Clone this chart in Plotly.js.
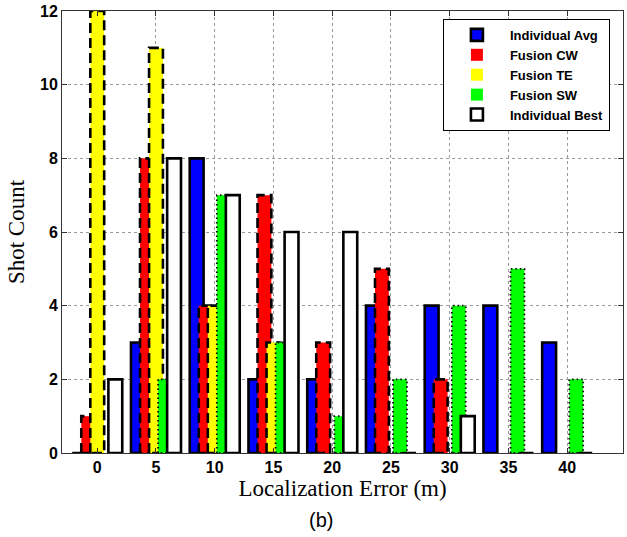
<!DOCTYPE html>
<html><head><meta charset="utf-8">
<script src="https://cdn.plot.ly/plotly-3.0.1.min.js"></script>
<style>html,body{margin:0;padding:0;background:#fff}#chart{width:627px;height:537px}</style>
</head><body><div id="chart"></div>
<script>
// ---- data ----
const errorBins = [0, 5, 10, 15, 20, 25, 30, 35, 40];
const seriesNames = ['Individual Avg', 'Fusion CW', 'Fusion TE', 'Fusion SW', 'Individual Best'];
const individualAvg = [0, 3, 8, 2, 2, 4, 4, 4, 3];
const fusionCW = [1, 8, 4, 7, 3, 5, 2, 0, 0];
const fusionTE = [12, 11, 4, 3, 0, 0, 0, 0, 0];
const fusionSW = [0, 2, 7, 3, 1, 2, 4, 5, 2];
const individualBest = [2, 8, 7, 6, 6, 0, 1, 0, 0];
const yTicks = [0, 2, 4, 6, 8, 10, 12];
const xTicks = errorBins;

// ---- styling ----
const seriesValues = [individualAvg, fusionCW, fusionTE, fusionSW, individualBest];
const fills = ['#0000ff', '#ff0000', '#ffff00', '#00ff00', '#ffffff'];
const edgeDash = [null, '10px,5px', '10px,5px', '1.5px,3px', null];
const edgeWidth = [2.6, 2.6, 2.6, 1.8, 2.6];
const barStep = 0.769;
const barWidth = 1.18;

const traces = [];
seriesValues.forEach((vals, i) => {
  const axSuffix = i === 0 ? '' : String(i + 1);
  const off = (i - 2) * barStep - barWidth / 2;
  const solid = edgeDash[i] === null;
  traces.push({
    type: 'bar', name: seriesNames[i], x: errorBins, y: vals,
    offset: off, width: barWidth,
    xaxis: 'x' + axSuffix, yaxis: 'y' + axSuffix,
    marker: { color: fills[i], line: { color: '#000', width: solid ? edgeWidth[i] : 0 } },
    legendrank: i + 1
  });
  if (!solid) {
    const ox = [], oy = [];
    errorBins.forEach((b, k) => {
      if (vals[k] <= 0) return;
      const l = b + off, r = b + off + barWidth;
      ox.push(l, l, r, r, l, null);
      oy.push(0, vals[k], vals[k], 0, 0, null);
    });
    traces.push({
      type: 'scatter', mode: 'lines', x: ox, y: oy, showlegend: false, hoverinfo: 'skip',
      xaxis: 'x' + axSuffix, yaxis: 'y' + axSuffix, connectgaps: false,
      line: { color: '#000', width: edgeWidth[i], dash: edgeDash[i] }
    });
  }
});

const tickFont = { family: 'Liberation Sans, Arial, sans-serif', size: 16, color: '#000', weight: 'bold' };
const titleFont = { family: 'Liberation Serif, Times New Roman, serif', size: 23, color: '#000' };
const xRange = [-3, 44.75], yRange = [0, 12];
const layout = {
  width: 627, height: 537,
  margin: { l: 62, r: 4, t: 11, b: 84 },
  paper_bgcolor: '#fff', plot_bgcolor: '#fff',
  barmode: 'overlay', showlegend: true,
  xaxis: {
    range: xRange, tickvals: xTicks, ticktext: xTicks.map(String),
    ticks: 'inside', ticklen: 5, tickcolor: '#333', tickwidth: 1,
    showline: true, linecolor: '#333', linewidth: 1, mirror: 'ticks',
    showgrid: true, gridcolor: '#9a9a9a', griddash: 'dot', gridwidth: 1, zeroline: false,
    tickfont: tickFont,
    title: { text: 'Localization Error (m)', font: titleFont, standoff: 3 }
  },
  yaxis: {
    range: yRange, tickvals: yTicks, ticktext: yTicks.map(String),
    ticks: 'inside', ticklen: 5, tickcolor: '#333', tickwidth: 1,
    showline: true, linecolor: '#333', linewidth: 1, mirror: 'ticks',
    showgrid: true, gridcolor: '#9a9a9a', griddash: 'dot', gridwidth: 1, zeroline: false,
    tickfont: tickFont,
    title: { text: 'Shot Count', font: titleFont, standoff: 8 }
  },
  legend: {
    x: 0.679, y: 0.982, xanchor: 'left', yanchor: 'top',
    bgcolor: '#fff', bordercolor: '#000', borderwidth: 1,
    font: { family: 'Liberation Sans, Arial, sans-serif', size: 13, color: '#000', weight: 'bold' },
    itemwidth: 56, tracegroupgap: 0
  },
  annotations: [{
    text: '(b)', xref: 'paper', yref: 'paper', x: 0.462, y: -0.151,
    showarrow: false, xanchor: 'center', yanchor: 'middle',
    font: { family: 'Liberation Sans, Arial, sans-serif', size: 20, color: '#000' }
  }]
};
for (let i = 2; i <= 5; i++) {
  layout['xaxis' + i] = { overlaying: 'x', matches: 'x', range: xRange, visible: false };
  layout['yaxis' + i] = { overlaying: 'y', matches: 'y', range: yRange, visible: false };
}
Plotly.newPlot('chart', traces, layout, { displayModeBar: false, staticPlot: true });
</script>
</body></html>
